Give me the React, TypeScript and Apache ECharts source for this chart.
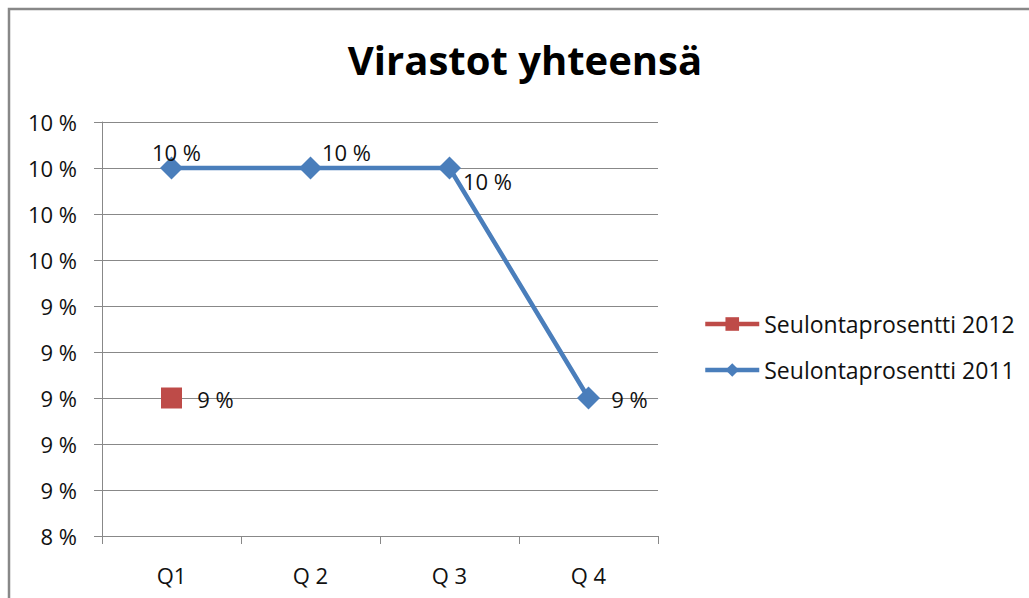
import React, { useEffect, useRef } from "react";
import * as echarts from "echarts";

const categories = ["Q1", "Q 2", "Q 3", "Q 4"];
const series2012 = [0.09, null, null, null];
const series2011 = [0.1, 0.1, 0.1, 0.09];
const seriesNames = ["Seulontaprosentti 2012", "Seulontaprosentti 2011"];
const titleText = "Virastot yhteensä";

const FONT = "'Open Sans', sans-serif";
const fmt = (v: number) => Math.round(v * 100) + " %";

export default function App() {
  const ref = useRef<HTMLDivElement>(null);
  useEffect(() => {
    if (!ref.current) return;
    const chart = echarts.init(ref.current, null, { renderer: "svg" });
    const offsets2011 = [[5, -16], [36, -16], [38, 13], [41, 1]];
    const offsets2012 = [[44, 1]];
    const labelBase = {
      show: true,
      position: "inside",
      color: "#111",
      fontFamily: FONT,
      fontSize: 22,
      textBorderWidth: 0,
      formatter: (p: any) => fmt(p.value),
    };
    chart.setOption({
      animation: false,
      backgroundColor: "#fff",
      title: {
        text: titleText,
        left: 520,
        top: 34,
        textAlign: "center",
        textStyle: { fontFamily: FONT, fontSize: 40, fontWeight: "bold", color: "#000" },
      },
      legend: {
        orient: "vertical",
        left: 698,
        top: 305,
        itemWidth: 54,
        itemHeight: 17,
        itemGap: 18,
        data: seriesNames,
        lineStyle: { width: 4.5 },
        textStyle: { fontFamily: FONT, fontSize: 23, lineHeight: 28, color: "#111" },
      },
      grid: { left: 102, top: 122, right: 371, bottom: 62 },
      xAxis: {
        type: "category",
        data: categories,
        boundaryGap: true,
        axisLine: { lineStyle: { color: "#888", width: 1 } },
        axisTick: { show: true, length: 8, lineStyle: { color: "#888" } },
        axisLabel: { fontFamily: FONT, fontSize: 22, color: "#111", margin: 28 },
      },
      yAxis: {
        type: "value",
        min: 0.084,
        max: 0.102,
        interval: 0.002,
        axisLine: { show: true, lineStyle: { color: "#888", width: 1 } },
        axisTick: { show: true, length: 8, lineStyle: { color: "#888" } },
        splitLine: { show: true, lineStyle: { color: "#888", width: 1 } },
        axisLabel: {
          fontFamily: FONT,
          fontSize: 22,
          color: "#111",
          margin: 25,
          formatter: (v: number) => fmt(v),
        },
      },
      series: [
        {
          name: seriesNames[0],
          type: "line",
          data: series2012.map((v, i) => ({
            value: v,
            label: { ...labelBase, offset: offsets2012[i] || [0, 0] },
          })),
          symbol: "rect",
          symbolSize: 21,
          color: "#be4b48",
          lineStyle: { width: 4.5, color: "#be4b48" },
          itemStyle: { color: "#be4b48" },
        },
        {
          name: seriesNames[1],
          type: "line",
          data: series2011.map((v, i) => ({
            value: v,
            label: { ...labelBase, offset: offsets2011[i] },
          })),
          symbol: "diamond",
          symbolSize: 23,
          color: "#4a7ebb",
          lineStyle: { width: 4.5, color: "#4a7ebb" },
          itemStyle: { color: "#4a7ebb" },
        },
      ],
      graphic: [
        {
          type: "rect",
          shape: { x: 9, y: 9, width: 1100, height: 700 },
          style: { fill: "none", stroke: "#888", lineWidth: 2.5 },
          silent: true,
        },
      ],
    });
    return () => chart.dispose();
  }, []);
  return (
    <div
      ref={ref}
      style={{ position: "fixed", left: 0, top: 0, width: 1029, height: 598 }}
    />
  );
}
